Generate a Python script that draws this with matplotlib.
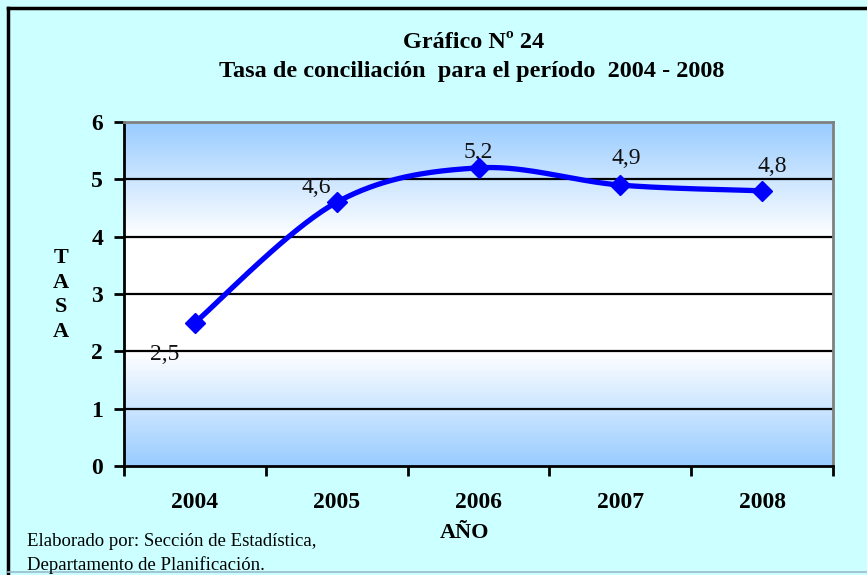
import matplotlib.pyplot as plt
import numpy as np
from matplotlib.colors import LinearSegmentedColormap
from matplotlib.lines import Line2D

years = ['2004', '2005', '2006', '2007', '2008']
tasa = [2.5, 4.6, 5.2, 4.9, 4.8]
labels = ['2,5', '4,6', '5,2', '4,9', '4,8']

plt.rcParams['font.family'] = ['Liberation Serif', 'DejaVu Serif']

def smooth(x, y, n=40):
    # catmull-rom style curve, like the smoothed line of the spreadsheet
    x = np.asarray(x, float)
    y = np.asarray(y, float)
    px = np.concatenate([[x[0]], x, [x[-1]]])
    py = np.concatenate([[y[0]], y, [y[-1]]])
    xs, ys = [], []
    t = np.linspace(0, 1, n)
    for i in range(1, len(px) - 2):
        for p, out in ((px, xs), (py, ys)):
            p0, p1, p2, p3 = p[i - 1], p[i], p[i + 1], p[i + 2]
            c1 = p1 + (p2 - p0) / 6
            c2 = p2 - (p3 - p1) / 6
            out.extend((1 - t) ** 3 * p1 + 3 * (1 - t) ** 2 * t * c1 + 3 * (1 - t) * t ** 2 * c2 + t ** 3 * p2)
    return np.array(xs), np.array(ys)

fig = plt.figure(figsize=(8.67, 5.75), dpi=100)
fig.patch.set_facecolor('#CCFFFF')
fig.add_artist(Line2D([8 / 867, 8 / 867], [0, 1 - 8 / 575], color='black', lw=2.5))
fig.add_artist(Line2D([8 / 867, 1], [1 - 8 / 575, 1 - 8 / 575], color='black', lw=2.5))
fig.add_artist(Line2D([8 / 867, 1], [3 / 575, 3 / 575], color='#99BBCC', lw=1.2))

ax = fig.add_axes([124 / 867, 1 - 466 / 575, (833 - 124) / 867, (466 - 122) / 575])
ax.set_xlim(-0.5, 4.5)
ax.set_ylim(0, 6)

cmap = LinearSegmentedColormap.from_list('g', ['#99CCFF', '#FFFFFF', '#FFFFFF', '#99CCFF'], N=256)
ax.imshow(np.linspace(0, 1, 256)[:, None], aspect='auto', cmap=cmap, extent=[-0.5, 4.5, 0, 6], zorder=0)

for yv in range(1, 6):
    ax.axhline(yv, color='black', lw=1.6, zorder=1)

xs, ys = smooth(range(len(years)), tasa)
ax.plot(xs, ys, color='#0000FF', lw=3.8, zorder=3, solid_capstyle='round')
ax.plot(range(len(years)), tasa, ls='none', marker='D', ms=10, color='#0000FF', zorder=4)

offsets = [(-0.21, -0.56), (-0.145, 0.25), (0.0, 0.26), (0.04, 0.47), (0.07, 0.42)]
for i, (lab, (dx, dy)) in enumerate(zip(labels, offsets)):
    ax.text(i + dx, tasa[i] + dy, lab, ha='center', va='center', fontsize=17, color='#111111')

for s in ['top', 'right']:
    ax.spines[s].set_color('#808080')
    ax.spines[s].set_linewidth(2)
for s in ['left', 'bottom']:
    ax.spines[s].set_color('black')
    ax.spines[s].set_linewidth(2)

ax.set_yticks(range(7))
ax.set_yticklabels([str(v) for v in range(7)], fontweight='bold', fontsize=17)
ax.set_xticks(np.arange(-0.5, 5, 1))
ax.set_xticklabels([])
ax.set_xticks(range(len(years)), minor=True)
ax.set_xticklabels(years, minor=True, fontweight='bold', fontsize=17)
ax.tick_params(axis='x', which='major', direction='out', length=7, width=2)
ax.tick_params(axis='x', which='minor', length=0, pad=19)
ax.tick_params(axis='y', direction='out', length=7, width=2, pad=8)

fig.text(474 / 867, 1 - 42 / 575, 'Gráfico Nº 24', ha='center', va='center', fontsize=17.5, fontweight='bold')
fig.text(472 / 867, 1 - 72 / 575, 'Tasa de conciliación  para el período  2004 - 2008', ha='center', va='center',
         fontsize=17.5, fontweight='bold')
fig.text(61 / 867, 1 - 295 / 575, 'T\nA\nS\nA', ha='center', va='center', fontsize=16, fontweight='bold',
         linespacing=1.3)
fig.text(465 / 867, 1 - 533 / 575, 'AÑO', ha='center', va='center', fontsize=16, fontweight='bold')
fig.text(27 / 867, 1 - 541 / 575, 'Elaborado por: Sección de Estadística,', ha='left', va='center', fontsize=13.5)
fig.text(27 / 867, 1 - 565 / 575, 'Departamento de Planificación.', ha='left', va='center', fontsize=13.5)

fig.savefig('out.png', dpi=100, facecolor=fig.get_facecolor())
